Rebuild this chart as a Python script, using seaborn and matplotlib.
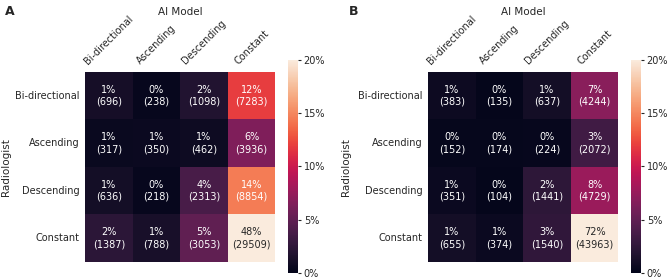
import numpy as np
import matplotlib
matplotlib.use('Agg')
import matplotlib.pyplot as plt
import seaborn as sns

sns.set_style('white')
plt.rcParams['font.family'] = ['DejaVu Sans']

categories = ['Bi-directional', 'Ascending', 'Descending', 'Constant']

# rows = Radiologist, columns = AI Model
counts_a = [[696, 238, 1098, 7283],
            [317, 350, 462, 3936],
            [636, 218, 2313, 8854],
            [1387, 788, 3053, 29509]]
counts_b = [[383, 135, 637, 4244],
            [152, 174, 224, 2072],
            [351, 104, 1441, 4729],
            [655, 374, 1540, 43963]]
panel_labels = ['A', 'B']

fig = plt.figure(figsize=(6.7, 2.79), dpi=100)

layout = [  # heatmap rect, colorbar rect
    ([0.127, 0.061, 0.284, 0.681], [0.430, 0.022, 0.015, 0.763]),
    ([0.639, 0.061, 0.284, 0.681], [0.942, 0.022, 0.015, 0.763]),
]

fs = 7
for counts, lab, (hm_rect, cb_rect) in zip([counts_a, counts_b], panel_labels, layout):
    c = np.array(counts, dtype=float)
    pct = c / c.sum() * 100
    annot = np.array([[f"{p:.0f}%\n({int(n)})" for p, n in zip(pr, nr)]
                      for pr, nr in zip(pct, c)])
    ax = fig.add_axes(hm_rect)
    cax = fig.add_axes(cb_rect)
    sns.heatmap(pct, ax=ax, cbar_ax=cax, cmap='rocket', vmin=0, vmax=20,
                annot=annot, fmt='', annot_kws={'fontsize': fs},
                xticklabels=categories, yticklabels=categories,
                cbar_kws={'format': '%d%%', 'ticks': [0, 5, 10, 15, 20]})
    ax.xaxis.tick_top()
    ax.xaxis.set_label_position('top')
    ax.set_xlabel('AI Model', fontsize=7.5)
    ax.set_ylabel('Radiologist', fontsize=7.5)
    ax.xaxis.set_label_coords(0.5, 1.30)
    ax.yaxis.set_label_coords(-0.39 if lab == 'A' else -0.405, 0.5)
    ax.tick_params(length=0, labelsize=fs, pad=4)
    plt.setp(ax.get_xticklabels(), rotation=45)
    plt.setp(ax.get_yticklabels(), rotation=0)
    cax.tick_params(labelsize=fs, length=2.5, pad=1.5)
    fig.text(hm_rect[0] - 0.119, 0.945, lab, fontsize=9, fontweight='bold')

fig.savefig('out.png', dpi=100)
